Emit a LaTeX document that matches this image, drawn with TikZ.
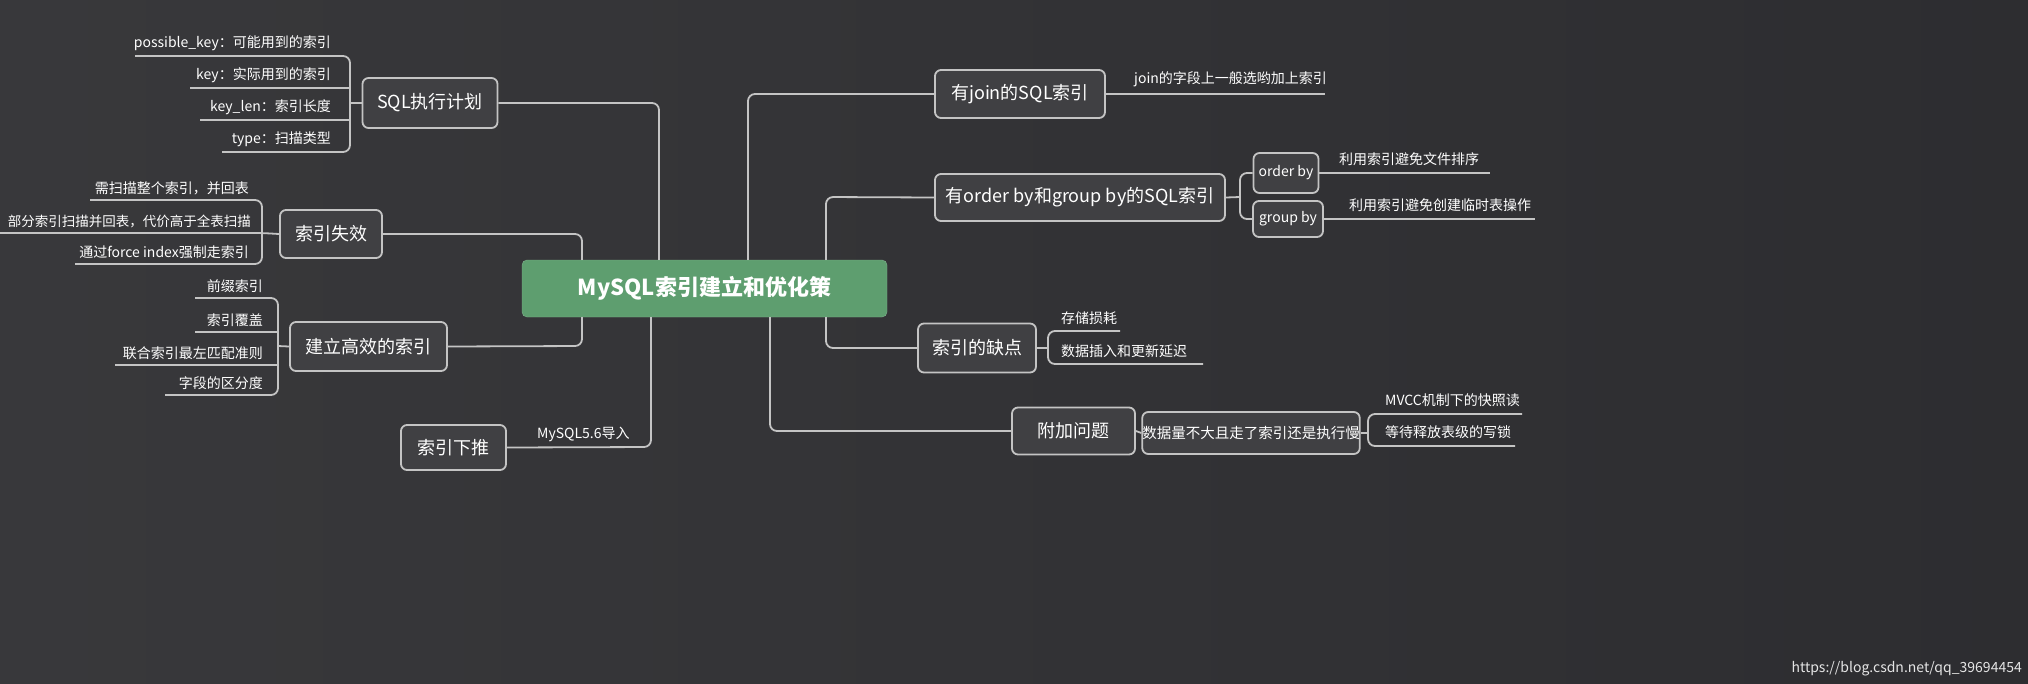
\documentclass[tikz,border=0pt]{standalone}
\usepackage{fontspec}
\setmainfont{Noto Sans CJK SC}
\begin{document}
\begin{tikzpicture}[x=1pt,y=-1pt,
  ln/.style={draw=lnc,line width=1.8pt,rounded corners=7pt},
  box/.style={draw=lnc,line width=1.8pt,rounded corners=6pt,fill=bgc,text=white,font=\fontsize{18}{21}\selectfont,inner sep=0pt},
  sbox/.style={box,font=\fontsize{14}{16}\selectfont},
  leaf/.style={text=white,font=\fontsize{14}{16}\selectfont,inner sep=1pt},
  lbl/.style={leaf,anchor=south east},
  rbl/.style={leaf,anchor=south west}]
\definecolor{lnc}{HTML}{C4C4C4}
\definecolor{bgc}{HTML}{404043}
\definecolor{grn}{HTML}{5E9E6F}
\shade[left color=bgc!88!black,right color=bgc!110!white] (0,0) rectangle (2028,683);
\useasboundingbox (0,0) rectangle (2028,683);

% center
\node[draw=grn!80!white,fill=grn,rounded corners=5pt,minimum width=365pt,minimum height=57pt,text=white,font=\fontsize{22}{25}\selectfont\bfseries] (c) at (704.5,288.5) {MySQL索引建立和优化策};

% ---- left ----
\node[box,minimum width=135pt,minimum height=50pt] (sql) at (430,103) {SQL执行计划};
\draw[ln] (sql.east) -- (659,103) -- (c.north -| 659,0);
\draw[ln] (135,56) -- (350,56) -- (350,152) -- (222,152);
\draw[ln] (190,88) -- (350,88);
\draw[ln] (200,120) -- (350,120);
\draw[ln] (350,103) -- (sql.west);
\node[lbl] (p1) at (332,52) {possible\_key：可能用到的索引};
\node[lbl] (p2) at (332,84) {key：实际用到的索引};
\node[lbl] (p3) at (332,116) {key\_len：索引长度};
\node[lbl] (p4) at (332,148) {type：扫描类型};

\node[box,minimum width=102pt,minimum height=48pt] (sx) at (331,234) {索引失效};
\draw[ln] (sx.east) -- (582,234) -- (c.north -| 582,0);
\draw[ln] (90,200) -- (262,200) -- (262,264) -- (75,264);
\draw[ln] (0,233) -- (262,233) -- (sx.west);
\node[lbl] (q1) at (250,196) {需扫描整个索引，并回表};
\node[lbl,font=\fontsize{13.5}{16}\selectfont] (q2) at (252,229) {部分索引扫描并回表，代价高于全表扫描};
\node[lbl] (q3) at (250,260) {通过force index强制走索引};

\node[box,minimum width=157pt,minimum height=49pt] (jl) at (368.5,346.5) {建立高效的索引};
\draw[ln] (jl.east) -- (582,346) -- (c.south -| 582,0);
\draw[ln] (195,298) -- (278,298) -- (278,395) -- (165,395);
\draw[ln] (195,332) -- (278,332);
\draw[ln] (115,365) -- (278,365);
\draw[ln] (278,346) -- (jl.west);
\node[lbl] (r1) at (264,294) {前缀索引};
\node[lbl] (r2) at (264,328) {索引覆盖};
\node[lbl] (r3) at (264,361) {联合索引最左匹配准则};
\node[lbl] (r4) at (264,391) {字段的区分度};

\node[box,minimum width=105pt,minimum height=45pt] (xt) at (453.5,447.5) {索引下推};
\draw[ln] (xt.east) -- (651,447) -- (c.south -| 651,0);
\node[rbl] (xtl) at (536,443) {MySQL5.6导入};

% ---- right ----
\node[box,minimum width=170pt,minimum height=48pt] (jn) at (1020,94) {有join的SQL索引};
\draw[ln] (c.north -| 748,0) -- (748,94) -- (jn.west);
\draw[ln] (jn.east) -- (1325,94);
\node[rbl] (jnl) at (1133,88) {join的字段上一般选哟加上索引};

\node[box,minimum width=290pt,minimum height=47pt] (ob) at (1080,197.5) {有order by和group by的SQL索引};
\draw[ln] (c.north -| 826,0) -- (826,197) -- (ob.west);
\node[sbox,minimum width=65pt,minimum height=40pt] (o1) at (1286,173) {order by};
\node[sbox,minimum width=70pt,minimum height=36pt] (o2) at (1288,219) {group by};
\draw[ln] (ob.east) -- (1240,197);
\draw[ln] (o1.west) -- (1240,173) -- (1240,219) -- (o2.west);
\draw[ln] (o1.east) -- (1490,173);
\draw[ln] (o2.east) -- (1535,219);
\node[rbl] (o1l) at (1338,167) {利用索引避免文件排序};
\node[rbl] (o2l) at (1348,213) {利用索引避免创建临时表操作};

\node[box,minimum width=118pt,minimum height=49pt] (qd) at (977,348) {索引的缺点};
\draw[ln] (c.south -| 826,0) -- (826,348) -- (qd.west);
\draw[ln] (qd.east) -- (1048,348);
\draw[ln] (1120,331) -- (1048,331) -- (1048,364) -- (1203,364);
\node[rbl] (s1) at (1060,326) {存储损耗};
\node[rbl] (s2) at (1060,359) {数据插入和更新延迟};

\node[box,minimum width=123pt,minimum height=47pt] (fj) at (1073.5,431) {附加问题};
\draw[ln] (c.south -| 770,0) -- (770,431) -- (fj.west);
\node[box,font=\fontsize{14.5}{17}\selectfont,minimum width=212pt,minimum height=42pt] (sj) at (1251,433) {数据量不大且走了索引还是执行慢};
\draw[ln] (fj.east) -- (sj.west);
\draw[ln] (sj.east) -- (1368,433);
\draw[ln] (1522,414) -- (1368,414) -- (1368,446) -- (1515,446);
\node[rbl] (t1) at (1384,408) {MVCC机制下的快照读};
\node[rbl] (t2) at (1384,440) {等待释放表级的写锁};

\node[text=white!80!gray,font=\fontsize{14}{16}\selectfont,anchor=south east,inner sep=0pt] (wm) at (2022,676) {https://blog.csdn.net/qq\_39694454};
\end{tikzpicture}
\end{document}
